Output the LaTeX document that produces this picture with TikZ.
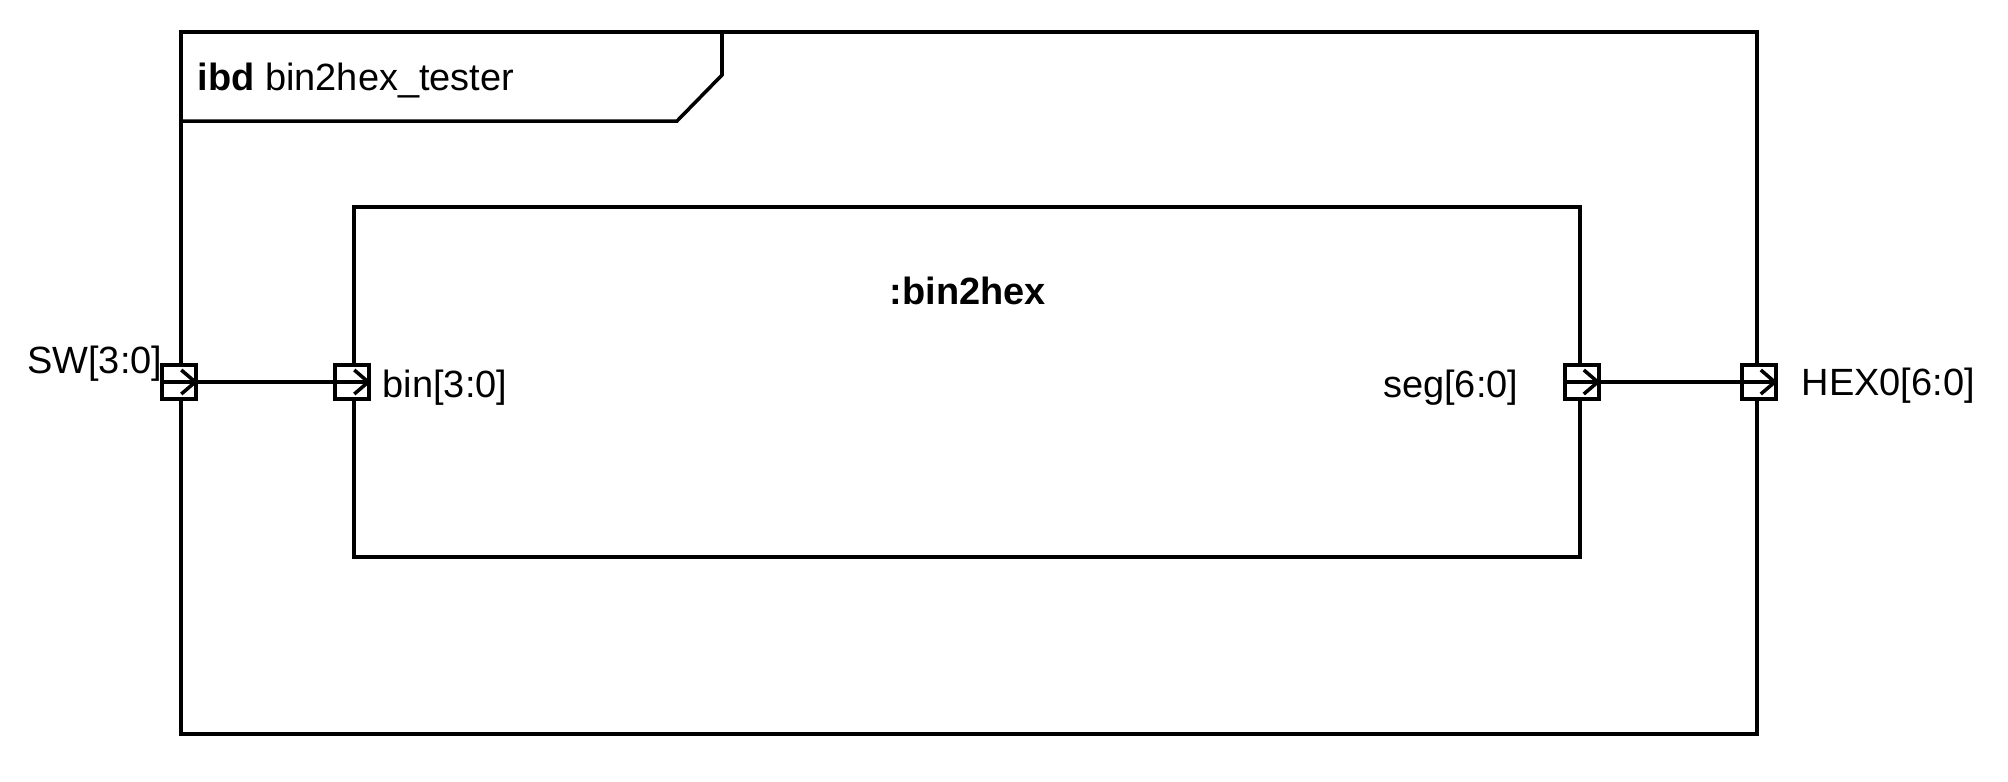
\documentclass[tikz,border=0pt]{standalone}
\usepackage{fontspec}
\setmainfont{Liberation Sans}
\usetikzlibrary{arrows.meta}
\begin{document}
\begin{tikzpicture}[line width=1pt, font=\fontsize{10.8}{13}\selectfont,
    port/.style={draw, fill=white, minimum size=0.34cm, inner sep=0cm},
    flow/.style={-{Straight Barb[length=1.4mm, width=2.4mm]}}]
    \useasboundingbox (0cm,0cm) rectangle (20.08cm,-7.81cm);
    \node[draw, minimum width=15.76cm, minimum height=7.02cm, inner sep=0cm] at (9.69cm,-3.83cm) (FR) {};
    \draw (1.81cm,-0.32cm) -- (7.22cm,-0.32cm) -- (7.22cm,-0.75cm) -- (6.77cm,-1.21cm) -- (1.81cm,-1.21cm);
    \node[anchor=base west, inner sep=0cm] at (1.96cm,-0.90cm) (TTL) {\textbf{ibd} bin2hex\_tester};
    \node[draw, minimum width=12.26cm, minimum height=3.50cm, inner sep=0cm] at (9.67cm,-3.82cm) (BLK) {};
    \node[anchor=base, inner sep=0cm] at (9.68cm,-3.04cm) (BLKL) {\textbf{:bin2hex}};
    \node[port] at (FR.west |- BLK.west) (SW) {};
    \node[port] at (BLK.west) (BIN) {};
    \node[port] at (BLK.east) (SEG) {};
    \node[port] at (FR.east |- BLK.east) (HEX) {};
    \node[anchor=base east, inner sep=0cm] at (1.64cm,-3.73cm) (SWL) {SW[3:0]};
    \node[anchor=base west, inner sep=0cm] at (3.81cm,-3.97cm) (BINL) {bin[3:0]};
    \node[anchor=base east, inner sep=0cm] at (15.20cm,-3.97cm) (SEGL) {seg[6:0]};
    \node[anchor=base west, inner sep=0cm] at (18.00cm,-3.95cm) (HEXL) {HEX0[6:0]};
    \draw[flow] (SW.west) -- (SW.east);
    \draw[flow] (BIN.west) -- (BIN.east);
    \draw[flow] (SEG.west) -- (SEG.east);
    \draw[flow] (HEX.west) -- (HEX.east);
    \draw (SW.east) -- (BIN.west);
    \draw (SEG.east) -- (HEX.west);
\end{tikzpicture}
\end{document}
